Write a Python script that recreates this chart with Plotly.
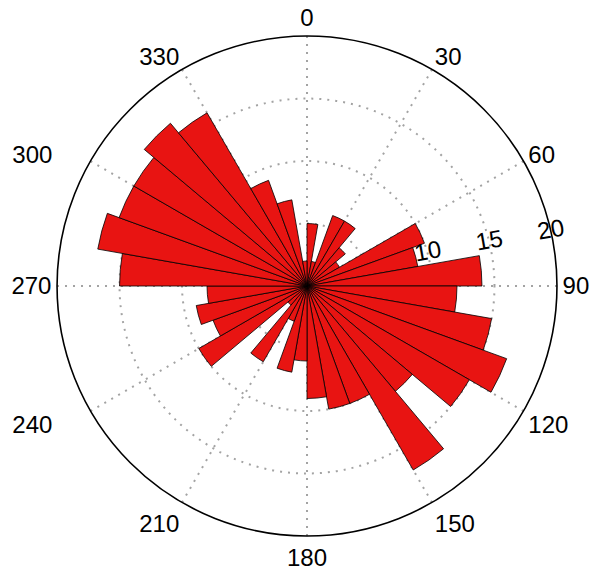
import plotly.graph_objects as go

# Rose diagram: 36 bins of 10 degrees (bin start angles, compass degrees)
bin_start = list(range(0, 360, 10))
counts = [5, 2, 6, 6, 4, 3, 10, 9, 14,
          12, 15, 17, 15, 11, 17, 10, 10, 9,
          6, 7, 3, 7, 2, 10, 8, 9, 8,
          15, 17, 16, 16, 17, 16, 9, 7, 2]
bin_width = 10

angle_ticks = list(range(0, 360, 30))
angle_labels = [str(a) for a in angle_ticks]
radial_ticks = [5, 10, 15, 20]
radial_labels = ["", "10", "15", "20"]

theta_centers = [b + bin_width / 2 for b in bin_start]

# left-side labels sit a little further out in the reference
NB = "\u00a0"
angle_text = [t + NB * 5 if t in ("240", "300") else t for t in angle_labels]

fig = go.Figure()
fig.add_trace(go.Barpolar(
    r=counts,
    theta=theta_centers,
    width=[bin_width] * len(counts),
    marker=dict(color="rgb(232,20,18)", line=dict(color="black", width=0.8)),
    opacity=1,
    hoverinfo="skip",
))

font = dict(family="Liberation Sans, Arial, sans-serif", size=24, color="black")

fig.update_layout(
    width=600, height=569,
    margin=dict(l=0, r=0, t=0, b=0),
    paper_bgcolor="white",
    plot_bgcolor="white",
    showlegend=False,
    font=font,
    polar=dict(
        domain=dict(x=[0.0817, 0.915], y=[0.0721, 0.9507]),
        bgcolor="white",
        bargap=0,
        angularaxis=dict(
            direction="clockwise",
            rotation=90,
            tickmode="array",
            tickvals=angle_ticks,
            ticktext=angle_text,
            ticks="",
            showline=True,
            linecolor="black",
            linewidth=1.6,
            showgrid=True,
            gridcolor="#a3a3a3",
            gridwidth=1.6,
            griddash="2px,6px",
            tickfont=font,
        ),
        radialaxis=dict(
            range=[0, 20],
            tickmode="array",
            tickvals=radial_ticks,
            ticktext=radial_labels,
            angle=10,
            side="counterclockwise",
            showline=False,
            ticks="",
            showgrid=True,
            gridcolor="#a3a3a3",
            gridwidth=1.6,
            griddash="2px,6px",
            tickfont=font,
            tickangle=0,
        ),
    ),
)

fig.write_html("out.html")
